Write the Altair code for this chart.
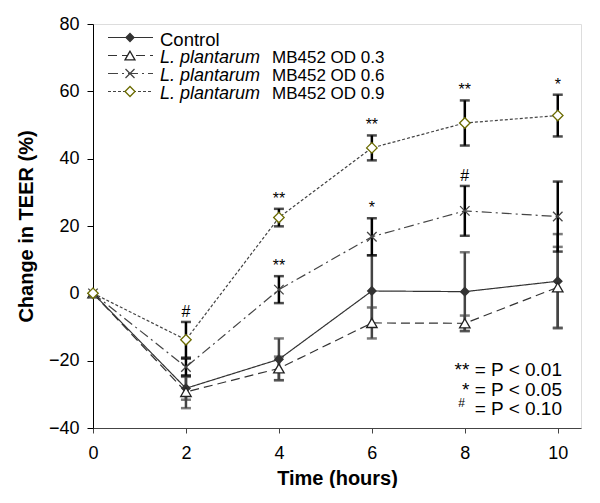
import altair as alt
import pandas as pd

# ---------------- data ----------------
times = [0, 2, 4, 6, 8, 10]
series_names = ["Control", "OD 0.3", "OD 0.6", "OD 0.9"]

control_mean = [0, -28.2, -19.6, 0.7, 0.5, 3.6]
control_err = [0, 3.4, 6.2, 10.6, 11.7, 14.0]
od03_mean = [0, -29.3, -22.3, -8.8, -8.9, 1.8]
od03_err = [0, 4.8, 3.5, 4.6, 2.3, 12.0]
od06_mean = [0, -21.9, 1.1, 16.8, 24.5, 22.8]
od06_err = [0, 2.5, 4.0, 5.5, 7.4, 10.4]
od09_mean = [0, -13.8, 22.5, 43.2, 50.6, 52.8]
od09_err = [0, 5.3, 2.6, 3.7, 6.7, 6.2]

sig_time = [2, 4, 4, 6, 6, 8, 8, 10]
sig_series = ["OD 0.9", "OD 0.9", "OD 0.6", "OD 0.9", "OD 0.6", "OD 0.9", "OD 0.6", "OD 0.9"]
sig_label = ["#", "**", "**", "**", "*", "**", "#", "*"]

legend_italic = ["", "L. plantarum", "L. plantarum", "L. plantarum"]
legend_plain = ["Control", "MB452 OD 0.3", "MB452 OD 0.6", "MB452 OD 0.9"]

key_lines = ["** = P < 0.01", "* = P < 0.05", "= P < 0.10"]

x_ticks = [0, 2, 4, 6, 8, 10]
y_ticks = [-40, -20, 0, 20, 40, 60, 80]

# ---------------- tables ----------------
rows = []
for name, means, errs in zip(series_names,
                             [control_mean, od03_mean, od06_mean, od09_mean],
                             [control_err, od03_err, od06_err, od09_err]):
    for t, m, e in zip(times, means, errs):
        rows.append(dict(series=name, time=t, mean=m, err=e, lo=m - e, hi=m + e))
df = pd.DataFrame(rows)

sig = pd.DataFrame(dict(time=sig_time, series=sig_series, label=sig_label))
sig = sig.merge(df, on=["time", "series"], how="left")

FONT = "Liberation Sans"
CROSS = "M-1,-1L1,1M-1,1L1,-1"

styles = {
    "Control": dict(dash=[1, 0], line="#333333", shape="diamond", fill="#333333",
                    stroke="#333333", size=70, bar="#444444", filled=True),
    "OD 0.3": dict(dash=[9, 5], line="#333333", shape="triangle-up", fill="white",
                   stroke="#222222", size=110, bar="#444444", filled=True),
    "OD 0.6": dict(dash=[10, 4, 2, 4], line="#444444", shape=CROSS, fill="white",
                   stroke="#444444", size=90, bar="#000000", filled=False),
    "OD 0.9": dict(dash=[3, 2], line="#444444", shape="diamond", fill="white",
                   stroke="#6b6b00", size=110, bar="#000000", filled=True),
}

xs = alt.Scale(domain=[0, 10.5], nice=False, zero=False)
ys = alt.Scale(domain=[-40, 80], nice=False, zero=False)

x_axis = alt.Axis(values=x_ticks, title="Time (hours)", labelFontSize=18,
                  titleFontSize=20, titleFontWeight="bold", tickSize=5,
                  labelPadding=11, titlePadding=6, grid=False, labelFlush=False,
                  domainColor="#444444", tickColor="#444444", labelColor="#000000",
                  titleColor="#000000", labelFont=FONT, titleFont=FONT)
y_axis = alt.Axis(values=y_ticks, title="Change in TEER (%)", labelFontSize=18,
                  titleFontSize=20, titleFontWeight="bold", tickSize=6,
                  labelPadding=8, titlePadding=12, grid=False, labelFlush=False,
                  domainColor="#000000", tickColor="#000000", labelColor="#000000",
                  titleColor="#000000", labelFont=FONT, titleFont=FONT)

X = alt.X("time:Q", scale=xs, axis=x_axis)


def Y(field):
    return alt.Y(f"{field}:Q", scale=ys, axis=y_axis)


base = alt.Chart(df)
layers = []

# error bars
for name in series_names:
    st = styles[name]
    sub = base.transform_filter((alt.datum.series == name) & (alt.datum.err > 0))
    layers.append(sub.mark_rule(color=st["bar"], strokeWidth=2.5).encode(
        x=X, y=Y("lo"), y2="hi:Q"))
    for col in ["lo", "hi"]:
        layers.append(sub.mark_tick(color=st["bar"], thickness=2.5, size=10,
                                    orient="horizontal").encode(x=X, y=Y(col)))

# lines
for name in series_names:
    st = styles[name]
    sub = base.transform_filter(alt.datum.series == name)
    layers.append(sub.mark_line(color=st["line"], strokeWidth=1.2,
                                strokeDash=st["dash"]).encode(x=X, y=Y("mean")))

# markers
for name in series_names:
    st = styles[name]
    sub = base.transform_filter(alt.datum.series == name)
    kw = dict(shape=st["shape"], size=st["size"], filled=st["filled"],
              stroke=st["stroke"], strokeWidth=1.3, opacity=1)
    if st["filled"]:
        kw["fill"] = st["fill"]
    layers.append(sub.mark_point(**kw).encode(x=X, y=Y("mean")))

# significance marks
layers.append(alt.Chart(sig).mark_text(baseline="bottom", dy=-2, fontSize=16,
                                       font=FONT, color="#000000").encode(
    x=X, y=Y("hi"), text="label:N"))

# manual legend
leg_y = [13.5, 31.5, 49.5, 67.5]
for i, name in enumerate(series_names):
    st = styles[name]
    ly = leg_y[i]
    ldf = pd.DataFrame(dict(italic=[legend_italic[i]], plain=[legend_plain[i]]))
    lc = alt.Chart(ldf)
    layers.append(lc.mark_rule(color=st["line"], strokeWidth=1.2,
                               strokeDash=st["dash"]).encode(
        x=alt.value(15), x2=alt.value(60), y=alt.value(ly)))
    kw = dict(shape=st["shape"], size=st["size"] * 0.9, filled=st["filled"],
              stroke=st["stroke"], strokeWidth=1.3, opacity=1)
    if st["filled"]:
        kw["fill"] = st["fill"]
    layers.append(lc.mark_point(**kw).encode(x=alt.value(37), y=alt.value(ly)))
    if legend_italic[i]:
        layers.append(lc.mark_text(align="left", baseline="middle", fontSize=18,
                                   font=FONT, fontStyle="italic", color="#000000",
                                   dy=2).encode(
            x=alt.value(67), y=alt.value(ly), text="italic:N"))
        layers.append(lc.mark_text(align="left", baseline="middle", fontSize=17,
                                   font=FONT, color="#000000", dy=2).encode(
            x=alt.value(179), y=alt.value(ly), text="plain:N"))
    else:
        layers.append(lc.mark_text(align="left", baseline="middle", fontSize=18.5,
                                   font=FONT, color="#000000", dy=2).encode(
            x=alt.value(67), y=alt.value(ly), text="plain:N"))

# p-value key
key_y = [346, 366, 385]
for i, line in enumerate(key_lines):
    kdf = pd.DataFrame(dict(t=[line]))
    layers.append(alt.Chart(kdf).mark_text(align="right", baseline="middle",
                                           fontSize=19, font=FONT,
                                           color="#000000").encode(
        x=alt.value(469), y=alt.value(key_y[i]), text="t:N"))
hdf = pd.DataFrame(dict(t=["#"]))
layers.append(alt.Chart(hdf).mark_text(align="right", baseline="middle",
                                       fontSize=12, font=FONT,
                                       color="#000000").encode(
    x=alt.value(372), y=alt.value(key_y[2] - 6), text="t:N"))

chart = alt.layer(*layers).properties(
    width=488, height=404,
    autosize=alt.AutoSizeParams(type="none"),
    padding={"left": 85, "top": 16, "right": 5, "bottom": 60},
).configure_view(stroke="#000000", strokeWidth=1).configure(background="white")

chart.save("out.html", embed_options={"renderer": "svg", "actions": False})
